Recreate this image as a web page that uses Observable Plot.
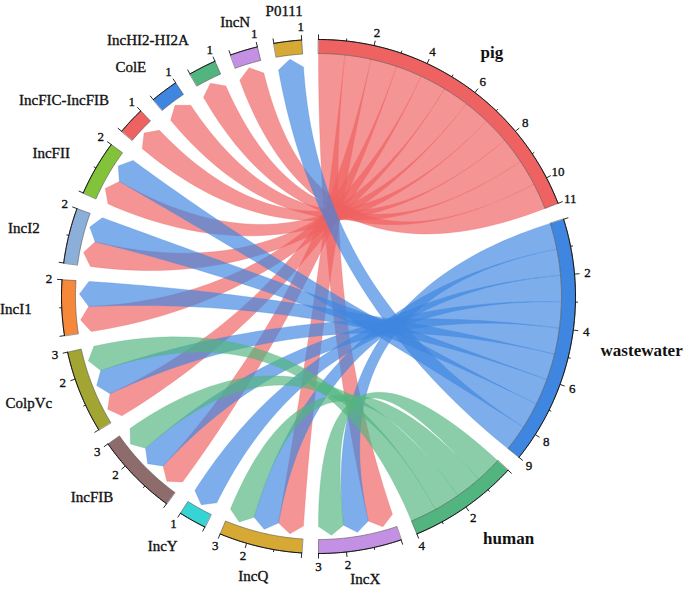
<!DOCTYPE html>
<html><head><meta charset="utf-8">
<script src="https://cdn.jsdelivr.net/npm/d3@7"></script>
<script src="https://cdn.jsdelivr.net/npm/@observablehq/plot@0.6"></script>
<style>body{margin:0;background:#fff}#chart svg{display:block}</style>
</head><body><div id="chart"></div>
<script>
// ---- data ----
const sources = ["pig", "wastewater", "human"];
const plasmids = ["IncX", "IncQ", "IncY", "IncFIB", "ColpVc", "IncI1", "IncI2", "IncFII",
  "IncFIC-IncFIB", "ColE", "IncHI2-HI2A", "IncN", "P0111"];
// number of links from each source to each plasmid (columns follow `plasmids`)
const pigLinks        = [1, 1, 0, 1, 1, 1, 1, 1, 1, 1, 1, 1, 0];
const wastewaterLinks = [1, 1, 1, 1, 1, 1, 1, 1, 0, 0, 0, 0, 1];
const humanLinks      = [1, 1, 0, 1, 1, 0, 0, 0, 0, 0, 0, 0, 0];
const sourceColors  = ["#EF6262", "#3F86E0", "#52B57F"];
const plasmidColors = ["#C390E3", "#D6A935", "#36D4D4", "#8E6C6C", "#A3A532", "#F5883A",
  "#8BAFD8", "#82C33A", "#EF6262", "#3F86E0", "#52B57F", "#C390E3", "#D6A935"];

// ---- layout ----
const GAP = 3.75, R_OUT = 257, R_IN = 243, R_CORNER = 230, R_TIP = 239;
const R_TICKLAB = 270, R_LAB = 287;
const linkRows = [pigLinks, wastewaterLinks, humanLinks];
const names = sources.concat(plasmids);
const totals = [
  ...sources.map((s, i) => d3.sum(linkRows[i])),
  ...plasmids.map((p, j) => d3.sum(linkRows, r => r[j]))
];
const unit = (360 - names.length * GAP) / d3.sum(totals);
let cur = 0;
const sectors = names.map((name, i) => {
  const s = {name, idx: i, start: cur, end: cur + totals[i] * unit, total: totals[i],
    color: i < 3 ? sourceColors[i] : plasmidColors[i - 3], isSource: i < 3};
  cur = s.end + GAP;
  return s;
});
const rad = a => a * Math.PI / 180;
const pt = (a, r) => [r * Math.sin(rad(a)), -r * Math.cos(rad(a))];

// links
const links = [];
linkRows.forEach((row, i) => row.forEach((v, j) => { if (v > 0) links.push({i, j, v}); }));
sources.forEach((s, i) => {
  let c = sectors[i].start;
  links.filter(l => l.i === i).sort((a, b) => a.j - b.j).forEach(l => { l.a0 = c; l.a1 = c + l.v * unit; c = l.a1; });
});
plasmids.forEach((p, j) => {
  let c = sectors[3 + j].start;
  links.filter(l => l.j === j).sort((a, b) => a.i - b.i).forEach(l => { l.b0 = c; l.b1 = c + l.v * unit; c = l.b1; });
});

function arcPts(a0, a1, r) {
  const n = Math.max(2, Math.ceil(Math.abs(a1 - a0) / 0.5));
  return d3.range(n + 1).map(k => pt(a0 + (a1 - a0) * k / n, r));
}
function quad(p0, p2) {
  const n = 60;
  return d3.range(n + 1).map(k => {
    const t = k / n;
    return [(1 - t) * (1 - t) * p0[0] + t * t * p2[0], (1 - t) * (1 - t) * p0[1] + t * t * p2[1]];
  });
}
const ribbonPts = [];
links.forEach((l, id) => {
  const col = sourceColors[l.i];
  const poly = [
    ...arcPts(l.a0, l.a1, R_IN),
    ...quad(pt(l.a1, R_IN), pt(l.b0, R_CORNER)),
    pt((l.b0 + l.b1) / 2, R_TIP),
    ...quad(pt(l.b1, R_CORNER), pt(l.a0, R_IN))
  ];
  poly.forEach(([x, y]) => ribbonPts.push({id, x, y, color: col}));
});

const barPts = [];
sectors.forEach(s => {
  [...arcPts(s.start, s.end, R_OUT), ...arcPts(s.end, s.start, R_IN)]
    .forEach(([x, y]) => barPts.push({id: s.idx, x, y, color: s.color}));
});
const axisPts = [];
sectors.forEach(s => arcPts(s.start, s.end, R_OUT).forEach(([x, y]) => axisPts.push({id: s.idx, x, y})));

const ticks = [];
sectors.forEach(s => {
  for (let k = 0; k <= s.total; k++) {
    const a = s.start + k * unit;
    const major = k % 2 === 0 || k === s.total;
    const p1 = pt(a, R_OUT), p2 = pt(a, R_OUT + (major ? 5 : 2.5));
    const lp = pt(a, R_TICKLAB);
    ticks.push({x1: p1[0], y1: p1[1], x2: p2[0], y2: p2[1], lx: lp[0], ly: lp[1],
      label: (k > 0 && major) ? String(k) : ""});
  }
});

const labels = sectors.map(s => {
  const a = (s.start + s.end) / 2;
  const p = pt(a, R_LAB);
  const sn = Math.sin(rad(a));
  // larger source labels sit a little further out vertically
  const extraY = s.isSource ? -8 * Math.cos(rad(a)) : 0;
  return {x: p[0], y: p[1] + extraY, name: s.name, isSource: s.isSource,
    anchor: sn > 0.35 ? "start" : sn < -0.35 ? "end" : "middle"};
});

const FONT = "Liberation Serif, Times New Roman, serif";
const labelMark = (anchor, src) => Plot.text(labels.filter(d => d.anchor === anchor && d.isSource === src), {
  x: "x", y: "y", text: "name", textAnchor: anchor, lineAnchor: "middle",
  fontSize: src ? 17 : 15, fontWeight: src ? "bold" : "normal", fontFamily: FONT, fill: "#111",
  stroke: src ? "none" : "#111", strokeWidth: 0.35
});

const chart = Plot.plot({
  width: 685, height: 592, margin: 0,
  x: {domain: [-318, 367], range: [0, 685], axis: null},
  y: {domain: [-296, 296], range: [0, 592], axis: null},
  color: {type: "identity"},
  marks: [
    Plot.line(ribbonPts, {x: "x", y: "y", z: "id", fill: "color", stroke: "color",
      fillOpacity: 0.68, strokeOpacity: 0.5, strokeWidth: 0.6, curve: "linear-closed"}),
    Plot.line(barPts, {x: "x", y: "y", z: "id", fill: "color", stroke: "#555",
      strokeWidth: 0.6, curve: "linear-closed"}),
    Plot.line(axisPts, {x: "x", y: "y", z: "id", stroke: "#111", strokeWidth: 1}),
    Plot.link(ticks, {x1: "x1", y1: "y1", x2: "x2", y2: "y2", stroke: "#111", strokeWidth: 0.9}),
    Plot.text(ticks.filter(d => d.label), {x: "lx", y: "ly", text: "label", fontSize: 13,
      fontFamily: FONT, fill: "#111", stroke: "#111", strokeWidth: 0.35, lineAnchor: "middle"}),
    ...["start", "middle", "end"].flatMap(a => [labelMark(a, true), labelMark(a, false)])
  ]
});
document.getElementById("chart").appendChild(chart);
</script>
</body></html>
